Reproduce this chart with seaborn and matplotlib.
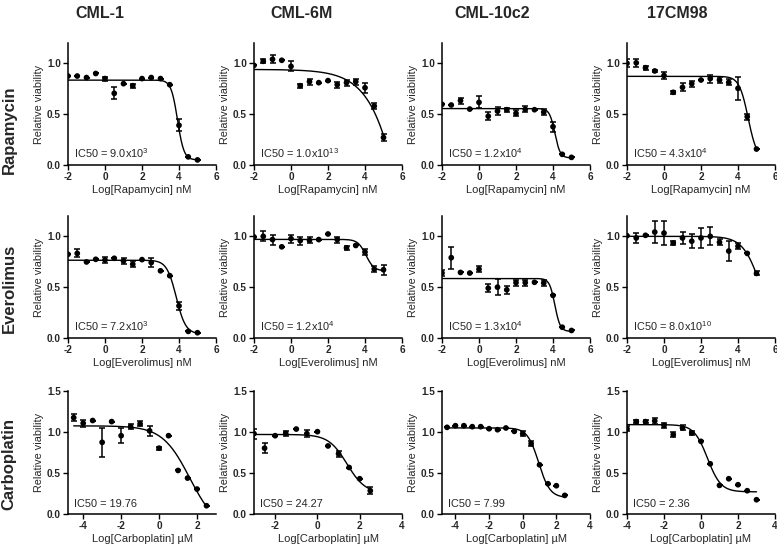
import numpy as np
import pandas as pd
import seaborn as sns
import matplotlib.pyplot as plt

sns.set_theme(style="ticks")
plt.rcParams['font.family'] = ['Liberation Sans', 'DejaVu Sans']
plt.rcParams['axes.unicode_minus'] = False
# rotulos dos ticks em negrito (padrao); os outros textos voltam a normal
plt.rcParams['font.weight'] = 'bold'

# Dados
cell_lines = ["CML-1", "CML-6M", "CML-10c2", "17CM98"]
drugs = ["Rapamycin", "Everolimus", "Carboplatin"]

# Doses (log) por droga
rapa_dose = [-2, -1.5, -1, -0.5, 0, 0.5, 1, 1.5, 2, 2.5, 3, 3.5, 4, 4.5, 5]
evero_dose = [-2, -1.5, -1, -0.5, 0, 0.5, 1, 1.5, 2, 2.5, 3, 3.5, 4, 4.5, 5]
carbo_dose_cml1 = [-4.5, -4, -3.5, -3, -2.5, -2, -1.5, -1, -0.5, 0, 0.5, 1, 1.5, 2, 2.5]
carbo_dose_cml6m = [-3, -2.5, -2, -1.5, -1, -0.5, 0, 0.5, 1, 1.5, 2, 2.5]
carbo_dose_cml10 = [-4.5, -4, -3.5, -3, -2.5, -2, -1.5, -1, -0.5, 0, 0.5, 1, 1.5, 2, 2.5]
carbo_dose_17cm = [-4, -3.5, -3, -2.5, -2, -1.5, -1, -0.5, 0, 0.5, 1, 1.5, 2, 2.5, 3]

# Rapamycin
rapa_cml1 = [0.875, 0.875, 0.86, 0.90, 0.85, 0.705, 0.80, 0.78, 0.85, 0.86, 0.85, 0.79, 0.39, 0.08, 0.05]
rapa_cml1_err = [0, 0, 0, 0, 0.02, 0.06, 0, 0.02, 0, 0, 0, 0, 0.06, 0, 0]
rapa_cml6m = [0.98, 1.02, 1.04, 1.03, 0.97, 0.78, 0.82, 0.81, 0.83, 0.79, 0.81, 0.82, 0.76, 0.58, 0.27]
rapa_cml6m_err = [0, 0.02, 0.04, 0, 0.05, 0.02, 0.03, 0, 0, 0.03, 0.03, 0.03, 0.05, 0.03, 0.03]
rapa_cml10 = [0.597, 0.59, 0.633, 0.55, 0.616, 0.48, 0.53, 0.544, 0.508, 0.548, 0.544, 0.52, 0.377, 0.105, 0.075]
rapa_cml10_err = [0, 0, 0.03, 0, 0.06, 0.04, 0.04, 0.02, 0.03, 0.03, 0, 0.03, 0.05, 0, 0]
rapa_17cm = [1.0, 1.005, 0.957, 0.925, 0.88, 0.715, 0.764, 0.80, 0.836, 0.85, 0.836, 0.813, 0.754, 0.475, 0.157]
rapa_17cm_err = [0.04, 0.04, 0.02, 0.01, 0.03, 0.015, 0.04, 0.03, 0, 0.04, 0.03, 0.03, 0.11, 0.03, 0]

# Everolimus
evero_cml1 = [0.823, 0.832, 0.748, 0.774, 0.768, 0.784, 0.758, 0.726, 0.771, 0.742, 0.661, 0.613, 0.316, 0.065, 0.052]
evero_cml1_err = [0, 0.04, 0, 0, 0.03, 0, 0.03, 0.03, 0, 0.04, 0, 0, 0.04, 0, 0]
evero_cml6m = [0.994, 1.0, 0.968, 0.897, 0.977, 0.958, 0.961, 0.968, 1.023, 0.968, 0.887, 0.91, 0.845, 0.677, 0.671]
evero_cml6m_err = [0, 0.05, 0.05, 0, 0.04, 0.04, 0.03, 0, 0, 0.03, 0.02, 0, 0.03, 0.03, 0.05]
evero_cml10 = [0.639, 0.79, 0.645, 0.639, 0.677, 0.49, 0.5, 0.474, 0.545, 0.545, 0.548, 0.542, 0.419, 0.106, 0.074]
evero_cml10_err = [0.03, 0.11, 0, 0, 0.03, 0.04, 0.08, 0.04, 0.03, 0.03, 0, 0.03, 0, 0, 0]
evero_17cm = [1.006, 0.984, 1.01, 1.042, 1.032, 0.935, 0.984, 0.952, 0.984, 1.0, 0.942, 0.855, 0.903, 0.832, 0.635]
evero_17cm_err = [0, 0.05, 0, 0.11, 0.12, 0.02, 0.06, 0.07, 0.1, 0.09, 0.03, 0.1, 0.03, 0, 0.02]

# Carboplatin
carbo_cml1 = [1.175, 1.107, 1.14, 0.874, 1.127, 0.955, 1.066, 1.099, 1.014, 0.803, 0.955, 0.531, 0.438, 0.304, 0.101]
carbo_cml1_err = [0.04, 0.04, 0, 0.18, 0, 0.09, 0.03, 0.03, 0.06, 0.02, 0, 0, 0, 0, 0]
carbo_cml6m = [0.98, 0.803, 0.955, 0.984, 1.036, 0.98, 1.004, 0.83, 0.734, 0.567, 0.43, 0.284]
carbo_cml6m_err = [0.06, 0.06, 0, 0.03, 0, 0.04, 0, 0, 0.04, 0, 0, 0.04]
carbo_cml10 = [1.057, 1.077, 1.077, 1.065, 1.065, 1.04, 1.028, 1.049, 1.008, 0.98, 0.858, 0.6, 0.369, 0.345, 0.227]
carbo_cml10_err = [0, 0, 0, 0, 0, 0, 0, 0, 0, 0.03, 0.03, 0, 0, 0, 0]
carbo_17cm = [1.04, 1.127, 1.127, 1.135, 1.08, 0.968, 1.05, 0.988, 0.886, 0.612, 0.349, 0.43, 0.357, 0.284, 0.174]
carbo_17cm_err = [0.03, 0.02, 0.02, 0.04, 0.03, 0.03, 0.03, 0.03, 0, 0, 0, 0, 0, 0, 0]

# Parametros do ajuste (top, bottom, logIC50, hill)
rapa_fit = [[0.835, 0.05, 3.92, 2.5], [0.94, -5.0, 7.17, 0.42],
            [0.555, 0.07, 4.1, 3.0], [0.872, 0.05, 4.55, 1.8]]
evero_fit = [[0.765, 0.04, 3.85, 1.7], [0.97, 0.66, 4.05, 2.0],
             [0.585, 0.065, 4.1, 3.0], [1.0, 0.0, 5.25, 0.9]]
carbo_fit = [[1.075, -0.2, 1.62, 0.6], [0.97, 0.25, 1.4, 1.0],
             [1.05, 0.2, 0.95, 1.3], [1.09, 0.27, 0.35, 1.2]]

# Textos IC50
rapa_ic50 = ["9.0x10$^{\\mathregular{3}}$", "1.0x10$^{\\mathregular{13}}$",
             "1.2x10$^{\\mathregular{4}}$", "4.3x10$^{\\mathregular{4}}$"]
evero_ic50 = ["7.2x10$^{\\mathregular{3}}$", "1.2x10$^{\\mathregular{4}}$",
              "1.3x10$^{\\mathregular{4}}$", "8.0x10$^{\\mathregular{10}}$"]
carbo_ic50 = ["19.76", "24.27", "7.99", "2.36"]

xlabels = ["Log[Rapamycin] nM", "Log[Everolimus] nM", "Log[Carboplatin] µM"]

rows = [
    ([rapa_dose] * 4,
     [rapa_cml1, rapa_cml6m, rapa_cml10, rapa_17cm],
     [rapa_cml1_err, rapa_cml6m_err, rapa_cml10_err, rapa_17cm_err],
     rapa_fit, rapa_ic50),
    ([evero_dose] * 4,
     [evero_cml1, evero_cml6m, evero_cml10, evero_17cm],
     [evero_cml1_err, evero_cml6m_err, evero_cml10_err, evero_17cm_err],
     evero_fit, evero_ic50),
    ([carbo_dose_cml1, carbo_dose_cml6m, carbo_dose_cml10, carbo_dose_17cm],
     [carbo_cml1, carbo_cml6m, carbo_cml10, carbo_17cm],
     [carbo_cml1_err, carbo_cml6m_err, carbo_cml10_err, carbo_17cm_err],
     carbo_fit, carbo_ic50),
]

# Layout (pixels)
W, H = 777, 544
lefts = [68, 254, 442, 627]
ax_w = 148
bottoms = [165, 338, 514]
ax_h = [122, 122, 123]
xlims = [[(-2, 6)] * 4, [(-2, 6)] * 4,
         [(-4.8, 3), (-3, 4), (-4.8, 4), (-4, 4)]]
xticks = [[[-2, 0, 2, 4, 6]] * 4, [[-2, 0, 2, 4, 6]] * 4,
          [[-4, -2, 0, 2], [-2, 0, 2, 4], [-4, -2, 0, 2, 4], [-4, -2, 0, 2, 4]]]
ylims = [(0, 1.2), (0, 1.2), (0, 1.5)]
yticks = [[0, 0.5, 1.0], [0, 0.5, 1.0], [0, 0.5, 1.0, 1.5]]


def logistic(x, top, bottom, logc, hill):
    return bottom + (top - bottom) / (1 + 10 ** ((x - logc) * hill))


fig = plt.figure(figsize=(W / 100, H / 100), dpi=100)

for r, (doses, vals, errs, fits, ic50s) in enumerate(rows):
    for c in range(4):
        ax = fig.add_axes([lefts[c] / W, 1 - bottoms[r] / H, ax_w / W, ax_h[r] / H])
        d = np.array(doses[c], dtype=float)
        df = pd.DataFrame({"dose": d, "viab": vals[c]})
        ax.errorbar(d, vals[c], yerr=errs[c], fmt='none', ecolor='black',
                    elinewidth=1.1, capsize=2.3, capthick=1.1, zorder=2)
        sns.scatterplot(data=df, x="dose", y="viab", ax=ax, color='black',
                        s=17, edgecolor='none', zorder=3)
        xs = np.linspace(d.min(), d.max(), 300)
        curve = pd.DataFrame({"dose": xs, "fit": logistic(xs, *fits[c])})
        sns.lineplot(data=curve, x="dose", y="fit", ax=ax, color='black',
                     linewidth=1.0, zorder=2)
        ax.set_xlim(*xlims[r][c])
        ax.set_ylim(*ylims[r])
        ax.set_xticks(xticks[r][c], labels=[str(t) for t in xticks[r][c]])
        ax.set_yticks(yticks[r], labels=["%.1f" % t for t in yticks[r]])
        ax.tick_params(axis='both', length=3.5, width=1.0, pad=1.5,
                       color='black', labelsize=7.2)
        for sp in ['left', 'bottom']:
            ax.spines[sp].set_linewidth(1.1)
            ax.spines[sp].set_color('black')
        sns.despine(ax=ax)
        ax.set_xlabel(xlabels[r], fontsize=8, labelpad=2, fontweight='normal')
        ax.set_ylabel("Relative viability", fontsize=7.8, labelpad=2,
                      fontweight='normal')
        ax.text(0.04, 0.055, "IC50 = " + ic50s[c], transform=ax.transAxes,
                fontsize=7.9, va='baseline', ha='left', fontweight='normal')
        ax.set_facecolor('white')

# Titulos das colunas e das linhas
title_x = [100, 302, 492, 677]
for c, name in enumerate(cell_lines):
    fig.text(title_x[c] / W, 1 - 14 / H, name, fontsize=11.5, fontweight='bold',
             ha='center', va='center')
row_y = [130, 288, 464]
for r, name in enumerate(drugs):
    fig.text(9 / W, 1 - row_y[r] / H, name, fontsize=12, fontweight='bold',
             rotation=90, ha='center', va='center')

fig.savefig('out.png', dpi=100, facecolor='white')
